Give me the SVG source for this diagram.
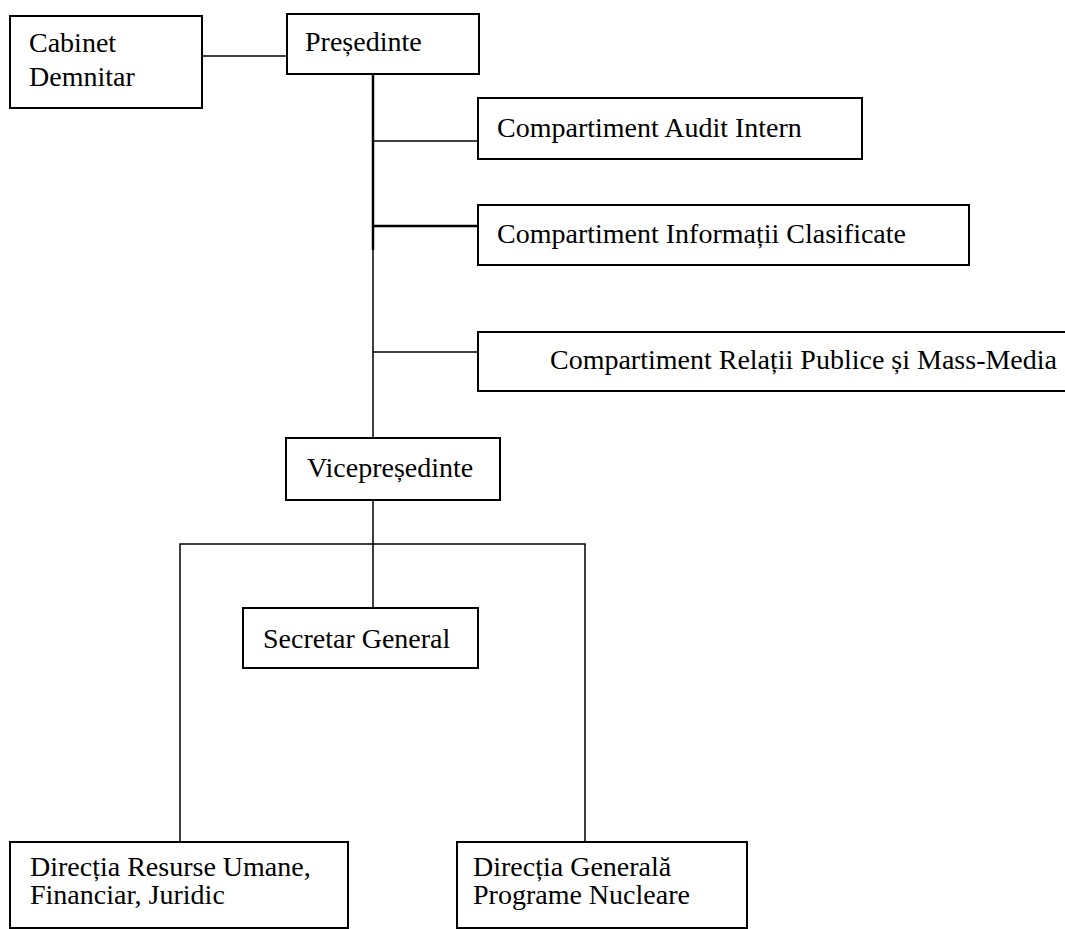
<svg xmlns="http://www.w3.org/2000/svg" width="1065" height="929" viewBox="0 0 1065 929">
<style>
.box{fill:#fff;stroke:#000;stroke-width:2}
.lbl{font-family:"Liberation Serif","Times New Roman",serif;font-size:28px;fill:#000}
.ln{stroke:#000;stroke-width:1.5;fill:none}
.lnb{stroke:#000;stroke-width:2.5;fill:none}
</style>
<rect width="1065" height="929" fill="#fff"/>
<g id="connectors">
<line class="ln" x1="202" y1="56" x2="287" y2="56"/>
<line class="lnb" x1="373" y1="74" x2="373" y2="250"/>
<line class="ln" x1="373" y1="250" x2="373" y2="438"/>
<line class="ln" x1="373" y1="141" x2="478" y2="141"/>
<line class="lnb" x1="373" y1="226" x2="478" y2="226"/>
<line class="ln" x1="373" y1="352" x2="478" y2="352"/>
<line class="ln" x1="373" y1="500" x2="373" y2="608"/>
<polyline class="ln" points="180,842 180,544 585,544 585,842"/>
</g>
<g id="cabinet">
<rect class="box" x="10" y="16" width="192" height="92"/>
<text class="lbl" x="29" y="52">Cabinet</text>
<text class="lbl" x="29" y="86">Demnitar</text>
</g>
<g id="presedinte">
<rect class="box" x="287" y="14" width="192" height="60"/>
<text class="lbl" x="305" y="51">Președinte</text>
</g>
<g id="audit">
<rect class="box" x="478" y="98" width="384" height="61"/>
<text class="lbl" x="497" y="137">Compartiment Audit Intern</text>
</g>
<g id="clasificate">
<rect class="box" x="478" y="205" width="491" height="60"/>
<text class="lbl" x="497" y="243">Compartiment Informații Clasificate</text>
</g>
<g id="relatii">
<rect class="box" x="478" y="332" width="600" height="59"/>
<text class="lbl" x="1057" y="369" text-anchor="end">Compartiment Relații Publice și Mass-Media</text>
</g>
<g id="vicepresedinte">
<rect class="box" x="286" y="438" width="214" height="62"/>
<text class="lbl" x="307" y="477">Vicepreședinte</text>
</g>
<g id="secretar">
<rect class="box" x="243" y="608" width="235" height="60"/>
<text class="lbl" x="263" y="648">Secretar General</text>
</g>
<g id="directia-ru">
<rect class="box" x="10" y="842" width="338" height="86"/>
<text class="lbl" x="30" y="876">Direcția Resurse Umane,</text>
<text class="lbl" x="30" y="904">Financiar, Juridic</text>
</g>
<g id="directia-gpn">
<rect class="box" x="457" y="842" width="290" height="86"/>
<text class="lbl" x="473" y="876">Direcția Generală</text>
<text class="lbl" x="473" y="904">Programe Nucleare</text>
</g>
</svg>
